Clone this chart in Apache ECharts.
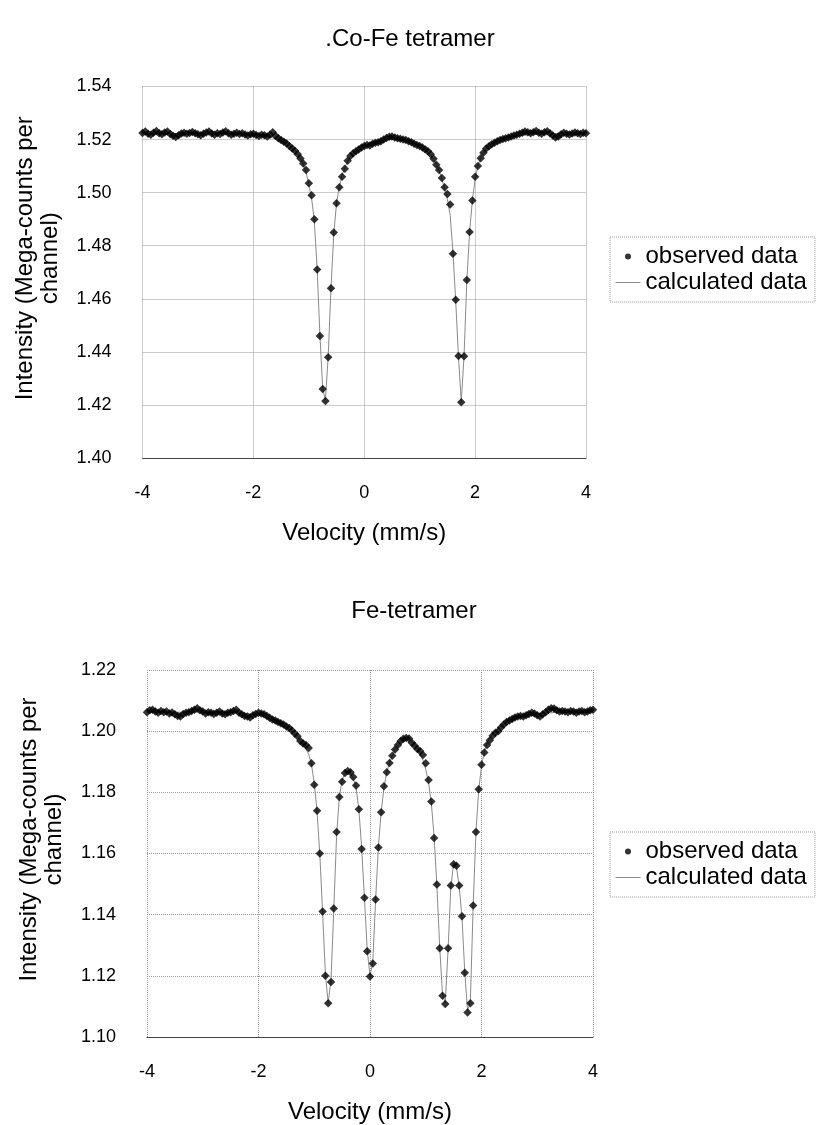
<!DOCTYPE html>
<html>
<head>
<meta charset="utf-8">
<title>Mössbauer spectra</title>
<script src="https://cdn.jsdelivr.net/npm/echarts@6/dist/echarts.min.js"></script>
<style>
  html, body { margin: 0; padding: 0; background: #fff; }
  #chart { width: 817px; height: 1125px; }
</style>
</head>
<body>
<div id="chart"></div>
<script>
// Velocity channels (mm/s), shared by both spectra
const velocity = [
  -4.00,-3.95,-3.90,-3.85,-3.80,-3.75,-3.70,-3.65,-3.60,-3.55,
  -3.50,-3.45,-3.40,-3.35,-3.30,-3.25,-3.20,-3.15,-3.10,-3.05,
  -3.00,-2.95,-2.90,-2.85,-2.80,-2.75,-2.70,-2.65,-2.60,-2.55,
  -2.50,-2.45,-2.40,-2.35,-2.30,-2.25,-2.20,-2.15,-2.10,-2.05,
  -2.00,-1.95,-1.90,-1.85,-1.80,-1.75,-1.70,-1.65,-1.60,-1.55,
  -1.50,-1.45,-1.40,-1.35,-1.30,-1.25,-1.20,-1.15,-1.10,-1.05,
  -1.00,-0.95,-0.90,-0.85,-0.80,-0.75,-0.70,-0.65,-0.60,-0.55,
  -0.50,-0.45,-0.40,-0.35,-0.30,-0.25,-0.20,-0.15,-0.10,-0.05,
   0.00, 0.05, 0.10, 0.15, 0.20, 0.25, 0.30, 0.35, 0.40, 0.45,
   0.50, 0.55, 0.60, 0.65, 0.70, 0.75, 0.80, 0.85, 0.90, 0.95,
   1.00, 1.05, 1.10, 1.15, 1.20, 1.25, 1.30, 1.35, 1.40, 1.45,
   1.50, 1.55, 1.60, 1.65, 1.70, 1.75, 1.80, 1.85, 1.90, 1.95,
   2.00, 2.05, 2.10, 2.15, 2.20, 2.25, 2.30, 2.35, 2.40, 2.45,
   2.50, 2.55, 2.60, 2.65, 2.70, 2.75, 2.80, 2.85, 2.90, 2.95,
   3.00, 3.05, 3.10, 3.15, 3.20, 3.25, 3.30, 3.35, 3.40, 3.45,
   3.50, 3.55, 3.60, 3.65, 3.70, 3.75, 3.80, 3.85, 3.90, 3.95,
   4.00
];

// Co-Fe tetramer: observed counts (Mega-counts per channel)
const coFeObserved = [
  1.5225,1.5230,1.5222,1.5218,1.5226,1.5232,1.5224,1.5220,1.5227,1.5230,
  1.5221,1.5214,1.5210,1.5216,1.5223,1.5226,1.5222,1.5225,1.5229,1.5224,
  1.5220,1.5216,1.5222,1.5227,1.5230,1.5223,1.5218,1.5224,1.5221,1.5227,
  1.5231,1.5224,1.5218,1.5222,1.5226,1.5221,1.5224,1.5219,1.5215,1.5220,
  1.5222,1.5217,1.5213,1.5218,1.5216,1.5212,1.5218,1.5228,1.5214,1.5205,
  1.5198,1.5192,1.5185,1.5176,1.5166,1.5158,1.5145,1.5129,1.5110,1.5085,
  1.5035,1.4990,1.4900,1.4710,1.4460,1.4260,1.4215,1.4380,1.4640,1.4850,
  1.4960,1.5020,1.5060,1.5090,1.5120,1.5138,1.5148,1.5156,1.5163,1.5170,
  1.5176,1.5180,1.5178,1.5184,1.5188,1.5190,1.5194,1.5200,1.5206,1.5211,
  1.5212,1.5208,1.5205,1.5203,1.5200,1.5198,1.5194,1.5190,1.5184,1.5180,
  1.5176,1.5170,1.5163,1.5156,1.5145,1.5128,1.5105,1.5085,1.5055,1.5020,
  1.4995,1.4955,1.4770,1.4596,1.4384,1.4210,1.4383,1.4671,1.4852,1.4970,
  1.5060,1.5100,1.5130,1.5150,1.5166,1.5175,1.5182,1.5188,1.5194,1.5198,
  1.5202,1.5205,1.5208,1.5212,1.5215,1.5218,1.5222,1.5226,1.5230,1.5228,
  1.5224,1.5228,1.5232,1.5226,1.5222,1.5228,1.5231,1.5224,1.5215,1.5208,
  1.5212,1.5220,1.5226,1.5222,1.5219,1.5223,1.5227,1.5224,1.5221,1.5226,
  1.5224
];

// Co-Fe tetramer: fitted curve
const coFeCalculated = [
  1.5223,1.5223,1.5223,1.5223,1.5223,1.5223,1.5223,1.5223,1.5223,1.5223,
  1.5223,1.5223,1.5223,1.5223,1.5223,1.5223,1.5223,1.5223,1.5223,1.5223,
  1.5223,1.5223,1.5223,1.5223,1.5223,1.5223,1.5223,1.5223,1.5223,1.5223,
  1.5223,1.5223,1.5222,1.5222,1.5222,1.5221,1.5221,1.5220,1.5220,1.5219,
  1.5218,1.5217,1.5216,1.5215,1.5213,1.5211,1.5209,1.5206,1.5203,1.5200,
  1.5196,1.5191,1.5185,1.5178,1.5169,1.5158,1.5145,1.5128,1.5107,1.5078,
  1.5030,1.4980,1.4890,1.4715,1.4465,1.4262,1.4218,1.4385,1.4640,1.4845,
  1.4960,1.5022,1.5065,1.5095,1.5117,1.5134,1.5147,1.5157,1.5165,1.5172,
  1.5177,1.5182,1.5186,1.5189,1.5192,1.5194,1.5196,1.5198,1.5199,1.5200,
  1.5200,1.5200,1.5199,1.5198,1.5197,1.5195,1.5192,1.5189,1.5186,1.5181,
  1.5176,1.5170,1.5162,1.5153,1.5141,1.5126,1.5107,1.5083,1.5052,1.5015,
  1.4975,1.4915,1.4775,1.4590,1.4380,1.4212,1.4385,1.4665,1.4850,1.4970,
  1.5050,1.5100,1.5132,1.5152,1.5166,1.5177,1.5185,1.5191,1.5196,1.5200,
  1.5203,1.5206,1.5208,1.5210,1.5212,1.5214,1.5215,1.5216,1.5217,1.5218,
  1.5219,1.5220,1.5220,1.5221,1.5221,1.5221,1.5222,1.5222,1.5222,1.5222,
  1.5223,1.5223,1.5223,1.5223,1.5223,1.5223,1.5223,1.5223,1.5223,1.5223,
  1.5223
];

// Fe tetramer: observed counts (Mega-counts per channel)
const feObserved = [
  1.2062,1.2068,1.2070,1.2064,1.2060,1.2066,1.2062,1.2064,1.2058,1.2061,
  1.2055,1.2050,1.2048,1.2056,1.2060,1.2062,1.2066,1.2070,1.2075,1.2068,
  1.2064,1.2058,1.2062,1.2060,1.2056,1.2060,1.2064,1.2058,1.2055,1.2060,
  1.2062,1.2066,1.2070,1.2060,1.2055,1.2050,1.2048,1.2045,1.2052,1.2056,
  1.2060,1.2058,1.2055,1.2050,1.2044,1.2038,1.2035,1.2030,1.2026,1.2022,
  1.2015,1.2010,1.2002,1.1992,1.1983,1.1968,1.1960,1.1955,1.1945,1.1895,
  1.1825,1.1740,1.1600,1.1410,1.1200,1.1110,1.1180,1.1420,1.1670,1.1785,
  1.1835,1.1863,1.1870,1.1866,1.1850,1.1822,1.1745,1.1615,1.1455,1.1280,
  1.1198,1.1240,1.1450,1.1620,1.1735,1.1820,1.1866,1.1896,1.1920,1.1940,
  1.1955,1.1968,1.1975,1.1978,1.1976,1.1962,1.1952,1.1942,1.1934,1.1922,
  1.1895,1.1840,1.1770,1.1651,1.1499,1.1290,1.1135,1.1108,1.1290,1.1495,
  1.1565,1.1560,1.1495,1.1395,1.1210,1.1080,1.1110,1.1430,1.1670,1.1810,
  1.1890,1.1930,1.1955,1.1970,1.1985,1.1995,1.2000,1.2012,1.2022,1.2030,
  1.2035,1.2040,1.2045,1.2048,1.2050,1.2048,1.2052,1.2056,1.2060,1.2058,
  1.2052,1.2048,1.2055,1.2062,1.2070,1.2075,1.2074,1.2068,1.2064,1.2066,
  1.2064,1.2062,1.2066,1.2064,1.2060,1.2064,1.2066,1.2062,1.2064,1.2068,
  1.2070
];

// Fe tetramer: fitted curve
const feCalculated = [
  1.2062,1.2062,1.2062,1.2062,1.2062,1.2062,1.2062,1.2062,1.2062,1.2062,
  1.2062,1.2062,1.2062,1.2062,1.2062,1.2062,1.2062,1.2062,1.2062,1.2062,
  1.2062,1.2062,1.2062,1.2062,1.2062,1.2062,1.2062,1.2062,1.2062,1.2062,
  1.2062,1.2061,1.2061,1.2060,1.2059,1.2058,1.2057,1.2056,1.2055,1.2054,
  1.2052,1.2050,1.2048,1.2045,1.2042,1.2039,1.2035,1.2031,1.2026,1.2021,
  1.2015,1.2008,1.2000,1.1991,1.1981,1.1970,1.1958,1.1942,1.1925,1.1892,
  1.1830,1.1738,1.1598,1.1405,1.1205,1.1112,1.1185,1.1415,1.1655,1.1785,
  1.1840,1.1862,1.1868,1.1862,1.1846,1.1815,1.1745,1.1620,1.1455,1.1285,
  1.1200,1.1245,1.1445,1.1620,1.1735,1.1815,1.1865,1.1897,1.1920,1.1940,
  1.1955,1.1966,1.1973,1.1976,1.1975,1.1968,1.1958,1.1945,1.1928,1.1905,
  1.1875,1.1832,1.1765,1.1655,1.1495,1.1295,1.1140,1.1112,1.1285,1.1490,
  1.1568,1.1558,1.1492,1.1390,1.1212,1.1085,1.1115,1.1425,1.1668,1.1808,
  1.1885,1.1932,1.1960,1.1978,1.1991,1.2001,1.2010,1.2017,1.2023,1.2029,
  1.2034,1.2038,1.2042,1.2045,1.2048,1.2050,1.2052,1.2054,1.2055,1.2056,
  1.2057,1.2058,1.2059,1.2059,1.2060,1.2060,1.2061,1.2061,1.2061,1.2062,
  1.2062,1.2062,1.2062,1.2062,1.2062,1.2062,1.2062,1.2062,1.2062,1.2062,
  1.2062
];

const chartTitles = ['.Co-Fe tetramer', 'Fe-tetramer'];
const xAxisTitle = 'Velocity (mm/s)';
const yAxisTitle = 'Intensity (Mega-counts per\nchannel)';
const seriesNames = ['observed data', 'calculated data'];
const velocityRange = [-4, 4, 2];           // min, max, step
const coFeRange = [1.40, 1.54, 0.02];
const feRange = [1.10, 1.22, 0.02];

const FONT = '"Liberation Sans", Arial, Helvetica, sans-serif';
const INK = '#000';

function pairs(xs, ys) { return xs.map((x, i) => [x, ys[i]]); }

function xAxisFor(gridIndex) {
  return {
    type: 'value', gridIndex: gridIndex,
    min: velocityRange[0], max: velocityRange[1], interval: velocityRange[2],
    name: xAxisTitle, nameLocation: 'middle', nameGap: 63,
    nameTextStyle: { fontFamily: FONT, fontSize: 24, color: INK },
    axisLine: { show: true, onZero: false, lineStyle: { color: '#444', width: 1 } },
    axisTick: { show: false },
    axisLabel: { fontFamily: FONT, fontSize: 18, color: INK, margin: 26 },
    splitLine: { show: true, lineStyle: { color: '#999', type: 'dotted', width: 1 } }
  };
}

function yAxisFor(gridIndex, range) {
  return {
    type: 'value', gridIndex: gridIndex,
    min: range[0], max: range[1], interval: range[2],
    name: yAxisTitle, nameLocation: 'middle', nameRotate: 90, nameGap: 80,
    nameTextStyle: { fontFamily: FONT, fontSize: 24, lineHeight: 25, color: INK,
                     align: 'center', padding: [0, 0, 0, 28] },
    axisLine: { show: false },
    axisTick: { show: false },
    axisLabel: { fontFamily: FONT, fontSize: 18, color: INK, margin: 31,
                 formatter: v => v.toFixed(2) },
    splitLine: { show: true, lineStyle: { color: '#999', type: 'dotted', width: 1 } }
  };
}

function legendFor(top) {
  return {
    orient: 'vertical', left: 610, top: top,
    itemWidth: 25, itemHeight: 6, itemGap: 1,
    padding: [7, 8, 7, 5],
    borderColor: '#999', borderWidth: 1, borderType: 'dotted',
    selectedMode: false,
    textStyle: { fontFamily: FONT, fontSize: 24, lineHeight: 25, color: INK },
    data: [
      { name: seriesNames[0], icon: 'circle' },
      { name: seriesNames[1], itemStyle: { color: 'rgba(0,0,0,0)', borderWidth: 0 },
        lineStyle: { color: '#8a8a8a', width: 1 } }
    ]
  };
}

function seriesFor(gridIndex, observed, calculated) {
  return [
    {
      name: seriesNames[1], type: 'line', xAxisIndex: gridIndex, yAxisIndex: gridIndex,
      data: pairs(velocity, calculated), symbol: 'none', z: 2,
      lineStyle: { color: '#8a8a8a', width: 1 }, itemStyle: { color: '#8a8a8a' },
      silent: true
    },
    {
      name: seriesNames[0], type: 'scatter', xAxisIndex: gridIndex, yAxisIndex: gridIndex,
      data: pairs(velocity, observed), symbol: 'diamond', symbolSize: 8.5, z: 3,
      itemStyle: { color: '#000' }, silent: true
    }
  ];
}

const chart = echarts.init(document.getElementById('chart'), null, { renderer: 'canvas' });
chart.setOption({
  backgroundColor: '#fff',
  animation: false,
  title: [
    { text: chartTitles[0], left: 405, top: 22, textAlign: 'center',
      textStyle: { fontFamily: FONT, fontSize: 24, fontWeight: 'normal', color: INK } },
    { text: chartTitles[1], left: 409, top: 594, textAlign: 'center',
      textStyle: { fontFamily: FONT, fontSize: 24, fontWeight: 'normal', color: INK } }
  ],
  legend: [legendFor(237), legendFor(832)],
  grid: [
    { left: 142.5, top: 86.5, width: 443.5, height: 371.5 },
    { left: 147, top: 670, width: 446, height: 368 }
  ],
  xAxis: [xAxisFor(0), xAxisFor(1)],
  yAxis: [yAxisFor(0, coFeRange), yAxisFor(1, feRange)],
  series: seriesFor(0, coFeObserved, coFeCalculated).concat(seriesFor(1, feObserved, feCalculated))
});
</script>
</body>
</html>
